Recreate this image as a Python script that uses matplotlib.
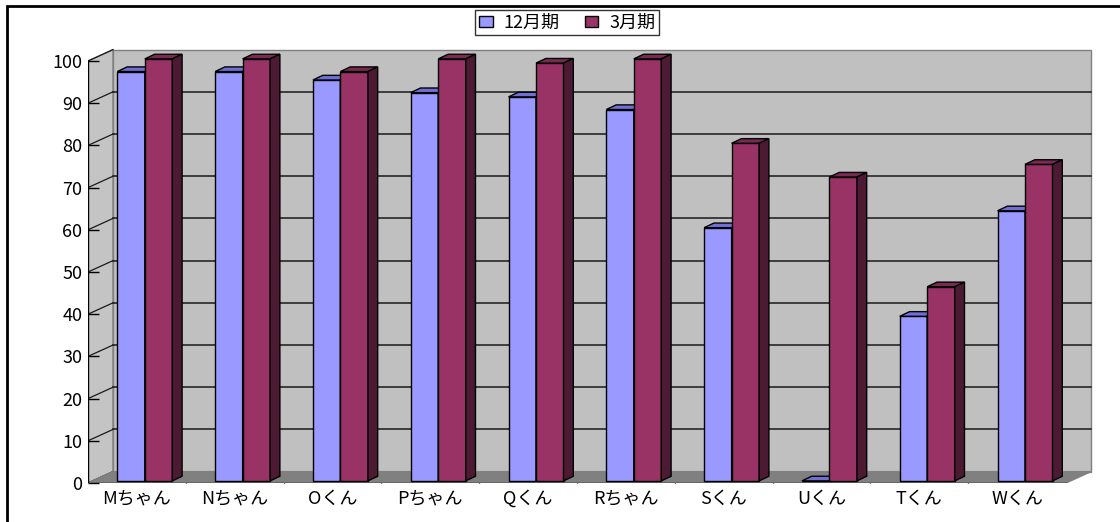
import matplotlib
matplotlib.use("Agg")
import matplotlib.pyplot as plt
from matplotlib.patches import Polygon, Rectangle, Patch
import numpy as np

plt.rcParams['font.family'] = ['Noto Sans CJK JP', 'DejaVu Sans']

names = ['Mちゃん', 'Nちゃん', 'Oくん', 'Pちゃん', 'Qくん', 'Rちゃん', 'Sくん', 'Uくん', 'Tくん', 'Wくん']
dec = [97, 97, 95, 92, 91, 88, 60, 0, 39, 64]
mar = [100, 100, 97, 100, 99, 100, 80, 72, 46, 75]
series_names = ['12月期', '3月期']
yticks = list(range(0, 101, 10))

# face colours: front, top, side
blue = ('#9999ff', '#6f6fd6', '#4d4d99')
red = ('#993366', '#7a2952', '#4d1a33')

fig = plt.figure(figsize=(11.2, 5.22), dpi=100)
ax = fig.add_axes([88 / 1120, 39 / 522, 1032 / 1120, 483 / 522])
ax.set_xlim(0, 1032 / 97.8)
ax.set_ylim(0, 483 / 4.22)
for s in ax.spines.values():
    s.set_visible(False)

n = len(names)
ymax = yticks[-1]
dx, dy = 0.256, 2.7      # depth of the box
bdx, bdy = 0.1, 1.1      # depth of a bar
w = 0.281
off = 0.30
base = 0.5

# walls and floor
ax.add_patch(Polygon([(0, 0), (0, ymax), (dx, ymax + dy), (dx, dy)],
                     closed=True, fc='#c4c4c4', ec='#808080', lw=1, zorder=1))
ax.add_patch(Rectangle((dx, dy), n, ymax, fc='#c0c0c0', ec='#808080', lw=1, zorder=1))
for v in yticks[1:-1]:
    ax.plot([dx, n + dx], [v + dy, v + dy], color='#1a1a1a', lw=1.1, zorder=2)
for v in yticks:
    ax.plot([0, dx], [v, v + dy], color='#1a1a1a', lw=0.9, zorder=2)
ax.add_patch(Polygon([(0, 0), (n, 0), (n + dx, dy), (dx, dy)],
                     closed=True, fc='#808080', ec='#808080', lw=1, zorder=2))
ax.plot([0, n], [0, 0], color='black', lw=1, zorder=3)
ax.plot([0, 0], [0, ymax], color='black', lw=1, zorder=3)


def bar3d(x0, v, cols):
    top = base + v
    ax.bar(x0, v, bottom=base, width=w, align='edge', color=cols[0],
           edgecolor='black', lw=1, zorder=4)
    ax.add_patch(Polygon([(x0, top), (x0 + w, top), (x0 + w + bdx, top + bdy), (x0 + bdx, top + bdy)],
                         closed=True, fc=cols[1], ec='black', lw=1, zorder=4))
    ax.add_patch(Polygon([(x0 + w, base), (x0 + w, top), (x0 + w + bdx, top + bdy), (x0 + w + bdx, base + bdy)],
                         closed=True, fc=cols[2], ec='black', lw=1, zorder=4))


for i in range(n):
    bar3d(i + off, dec[i], blue)
    bar3d(i + off + w, mar[i], red)

ax.set_yticks(yticks)
ax.set_yticklabels([str(v) for v in yticks], fontsize=13)
ax.tick_params(axis='y', direction='in', length=8, width=1, pad=4)
ax.set_xticks(np.arange(n) + 0.5)
ax.set_xticklabels(names, fontsize=13)
ax.set_xticks(np.arange(1, n), minor=True)
ax.tick_params(axis='x', which='major', length=0, pad=5)
ax.tick_params(axis='x', which='minor', direction='in', length=5, width=1)

handles = [Patch(fc=blue[0], ec='black'), Patch(fc=red[0], ec='black')]
leg = fig.legend(handles, series_names, loc='upper center', bbox_to_anchor=(567 / 1120, 1 - 10 / 522),
                 ncol=2, fontsize=13, frameon=True, fancybox=False, edgecolor='black',
                 handlelength=0.75, handleheight=0.55, handletextpad=0.6, columnspacing=1.4,
                 borderpad=0.2, borderaxespad=0)
leg.get_frame().set_linewidth(1)

fig.add_artist(Rectangle((7 / 1120, -0.05), 1.2, 1.05 - 6 / 522, transform=fig.transFigure,
                         fill=False, ec='black', lw=2))

fig.savefig('out.png', dpi=100)
